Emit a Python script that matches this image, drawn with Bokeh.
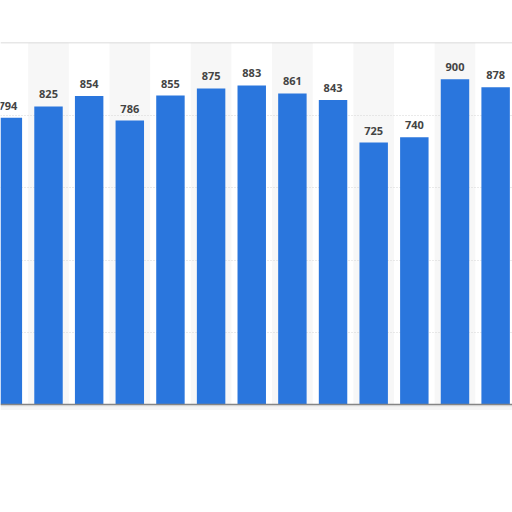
from bokeh.plotting import figure
from bokeh.models import Range1d, ColumnDataSource
from bokeh.core.properties import value
from bokeh.embed import file_html
from bokeh.resources import INLINE

# Data (x-axis categories not visible in the crop)
positions = list(range(13))
values = [794, 825, 854, 786, 855, 875, 883, 861, 843, 725, 740, 900, 878]
labels = [str(v) for v in values]
gridlines = [200, 400, 600, 800]
band_positions = [i for i in positions if i % 2 == 1]

Y_TOP = 1002
p = figure(width=512, height=512, output_backend="svg", toolbar_location=None,
           x_range=Range1d(-0.181, 12.415), y_range=Range1d(-22, Y_TOP),
           min_border_left=0, min_border_right=0, min_border_top=42, min_border_bottom=100)
p.axis.visible = False
p.grid.visible = False
p.outline_line_color = None
p.background_fill_color = "white"
p.border_fill_color = "white"

# alternating column shading
p.vbar(x=band_positions, width=1.0, bottom=0, top=Y_TOP, fill_color="#f7f7f7", line_color=None)
# dotted gridlines
p.hspan(y=gridlines, line_color="#d4d4d4", line_width=1, line_dash="1 2")
# top border of the chart box
p.hspan(y=[Y_TOP - 1], line_color="#cfcfcf", line_width=1.5)

src = ColumnDataSource(dict(x=positions, top=values, label=labels))
p.vbar(x="x", top="top", bottom=0, width=0.70, source=src, fill_color="#2a76dd", line_color=None)
p.text(x="x", y="top", text="label", source=src, text_align="center", text_baseline="alphabetic",
       y_offset=-12, text_font=value("Open Sans"), text_font_style="bold",
       text_font_size="11px", text_color="#444444")

# baseline and a soft shadow below it
p.hspan(y=[-4], line_color="#e8e8e8", line_width=3, line_alpha=0.8)
p.hspan(y=[-10], line_color="#f2f2f2", line_width=3, line_alpha=0.8)
p.hspan(y=[0], line_color="#858585", line_width=1.5)

open("out.html", "w").write(file_html(p, INLINE))
